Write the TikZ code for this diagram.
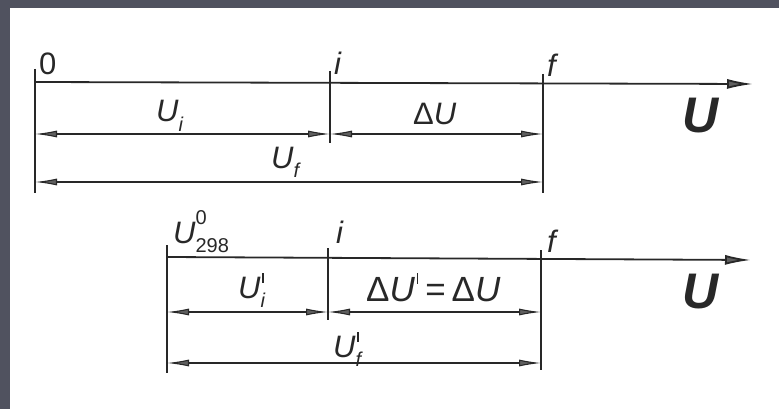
\documentclass[tikz,border=0pt]{standalone}
\usepackage{fontspec}
\setmainfont{Liberation Sans}
\usetikzlibrary{arrows.meta}
\definecolor{framec}{RGB}{80,82,95}
\definecolor{ink}{RGB}{40,40,40}
\definecolor{headc}{RGB}{95,95,95}
\newcommand{\lbl}{\fontsize{31}{36}\selectfont\itshape}
\newcommand{\biglbl}{\fontsize{35}{40}\selectfont\itshape}
\newcommand{\smalllbl}{\fontsize{20}{22}\selectfont\itshape}
\newcommand{\mysub}[1]{\raisebox{-0.32em}{\smalllbl #1}}
\newcommand{\mysupsub}[2]{\makebox[0pt][l]{\raisebox{0.6em}{\smalllbl #1}}\raisebox{-0.32em}{\smalllbl #2}}
\newcommand{\myprime}{\kern0.06em\rule[0.5em]{1.2pt}{0.3em}\kern0.04em}
\newcommand{\mysubprime}[1]{\makebox[0pt][l]{\kern0.06em\rule[0.5em]{1.2pt}{0.3em}}\raisebox{-0.32em}{\smalllbl #1}}
\begin{document}
\begin{tikzpicture}[x=1pt,y=-1pt,
  axis/.style={draw=ink,line width=1.8pt,-{Latex[length=26pt,width=10pt,fill=headc]}},
  tick/.style={draw=ink,line width=1.1pt},
  dim/.style={draw=ink,line width=1.1pt,{Latex[length=22pt,width=7pt,fill=headc]}-{Latex[length=22pt,width=7pt,fill=headc]}},
  txt/.style={text=ink,inner sep=0pt,anchor=base west},
  bigU/.style={text=ink,inner sep=0pt,anchor=base west,font=\fontsize{50}{56}\selectfont\bfseries\itshape}]
\useasboundingbox (0,0) rectangle (779,409);
\fill[framec] (0,0) rectangle (779,409);
\fill[white] (10,8) rectangle (779,409);

% ---------- top diagram ----------
\coordinate (a0) at (35,82);
\coordinate (ai) at (330,82);
\coordinate (af) at (543,82);
\coordinate (aend) at (753,84);
\draw[axis] (a0) -- (aend);
\coordinate (k0t) at (35,69);  \coordinate (k0b) at (35,193);
\coordinate (kit) at (330,71); \coordinate (kib) at (330,143);
\coordinate (kft) at (543,74); \coordinate (kfb) at (543,193);
\draw[tick] (k0t) -- (k0b);
\draw[tick] (kit) -- (kib);
\draw[tick] (kft) -- (kfb);
\coordinate (d1a) at (35,134);  \coordinate (d1b) at (330,134);
\coordinate (d1c) at (330,134); \coordinate (d1d) at (543,134);
\coordinate (d2a) at (35,182);  \coordinate (d2b) at (543,182);
\draw[dim] (d1a) -- (d1b);
\draw[dim] (d1c) -- (d1d);
\draw[dim] (d2a) -- (d2b);
\node[txt,font=\lbl\upshape] (l0) at (39,75) {0};
\node[txt,font=\lbl] (li) at (334,75) {i};
\node[txt,font=\lbl] (lf) at (547,77) {f};
\node[bigU] (lU1) at (682,133) {U};
\node[txt,font=\lbl] (lUi) at (156,122) {U\mysub{i}};
\node[txt,font=\lbl] (ldU) at (413,125) {\upshape Δ\itshape U};
\node[txt,font=\lbl] (lUf) at (271,168) {U\mysub{f}};

% ---------- bottom diagram ----------
\coordinate (b0) at (167,257);
\coordinate (bi) at (328,258);
\coordinate (bf) at (541,258);
\coordinate (bend) at (751,260);
\draw[axis] (b0) -- (bend);
\coordinate (m0t) at (167,245); \coordinate (m0b) at (167,373);
\coordinate (mit) at (328,248); \coordinate (mib) at (328,320);
\coordinate (mft) at (541,250); \coordinate (mfb) at (541,370);
\draw[tick] (m0t) -- (m0b);
\draw[tick] (mit) -- (mib);
\draw[tick] (mft) -- (mfb);
\coordinate (e1a) at (167,312); \coordinate (e1b) at (328,312);
\coordinate (e1c) at (328,312); \coordinate (e1d) at (541,312);
\coordinate (e2a) at (167,363); \coordinate (e2b) at (541,363);
\draw[dim] (e1a) -- (e1b);
\draw[dim] (e1c) -- (e1d);
\draw[dim] (e2a) -- (e2b);
\node[txt,font=\lbl] (lU0) at (173,243) {U\mysupsub{\upshape 0}{\upshape 298}};
\node[txt,font=\lbl] (li2) at (336,243) {i};
\node[txt,font=\lbl] (lf2) at (547,252) {f};
\node[bigU] (lU2) at (682,308) {U};
\node[txt,font=\lbl] (lUi2) at (238,298) {U\mysubprime{i}};
\node[txt,font=\biglbl] (ldU2) at (366,301) {\upshape Δ\itshape U\myprime\upshape\,=\,Δ\itshape U};
\node[txt,font=\lbl] (lUf2) at (333,357) {U\mysubprime{f}};
\end{tikzpicture}
\end{document}
